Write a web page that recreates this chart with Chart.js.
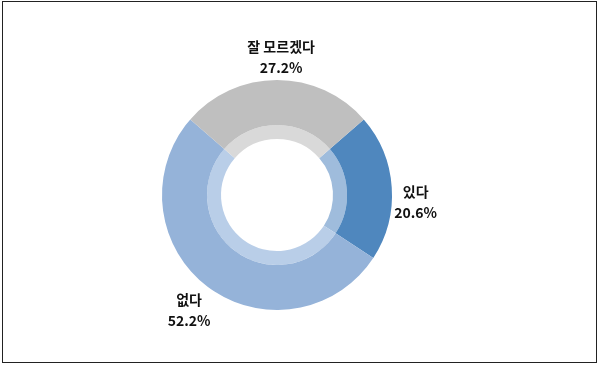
<!DOCTYPE html>
<html>
<head>
<meta charset="utf-8">
<script src="https://cdn.jsdelivr.net/npm/chart.js@4/dist/chart.umd.min.js"></script>
<style>
    body { margin: 0; background: #fff; }
    #wrap { position: relative; width: 600px; height: 366px; }
    #frame {
        position: absolute; left: 2px; top: 1px; width: 593px; height: 360px;
        border: 1.5px solid #222; pointer-events: none;
    }
</style>
</head>
<body>
<div id="wrap">
    <canvas id="chart" width="600" height="366"></canvas>
    <div id="frame"></div>
</div>
<script>
// Survey answers (percent)
const labels = ['있다', '없다', '잘 모르겠다'];
const values = [20.6, 52.2, 27.2];

// Outer ring colours and the lighter inner band
const ringColors = ['#4f87be', '#95b3d9', '#bfbfbf'];
const bandColors = ['#9fbcdc', '#b9cee8', '#d9d9d9'];

// Draw "label / value%" outside each slice
const outsideLabels = {
    id: 'outsideLabels',
    afterDatasetsDraw(chart, args, opts) {
        const ctx = chart.ctx;
        const arcs = chart.getDatasetMeta(0).data;
        ctx.save();
        ctx.fillStyle = '#111';
        ctx.textAlign = 'center';
        ctx.textBaseline = 'middle';
        ctx.font = 'bold 14px "Noto Sans CJK KR", "Noto Sans", sans-serif';
        arcs.forEach((arc, i) => {
            const mid = (arc.startAngle + arc.endAngle) / 2;
            const r = arc.outerRadius + opts.gap;
            const nudge = opts.nudge[i];
            const x = arc.x + Math.cos(mid) * r + nudge[0];
            const y = arc.y + Math.sin(mid) * r + nudge[1];
            ctx.fillText(labels[i], x, y - 10);
            ctx.fillText(values[i].toFixed(1) + '%', x, y + 11);
        });
        ctx.restore();
    }
};

new Chart(document.getElementById('chart'), {
    type: 'doughnut',
    data: {
        labels: labels,
        datasets: [
            {
                data: values,
                backgroundColor: ringColors,
                borderWidth: 0,
                weight: 45
            },
            {
                data: values,
                backgroundColor: bandColors,
                borderWidth: 0,
                weight: 14
            }
        ]
    },
    options: {
        responsive: false,
        animation: false,
        rotation: 49,
        cutout: '48.7%',
        layout: {
            padding: { left: 162, right: 208, top: 80, bottom: 56 }
        },
        plugins: {
            legend: { display: false },
            tooltip: { enabled: false },
            outsideLabels: {
                gap: 24,
                nudge: [[0, 16], [-4, 4], [4, 1]]
            }
        }
    },
    plugins: [outsideLabels]
});
</script>
</body>
</html>
